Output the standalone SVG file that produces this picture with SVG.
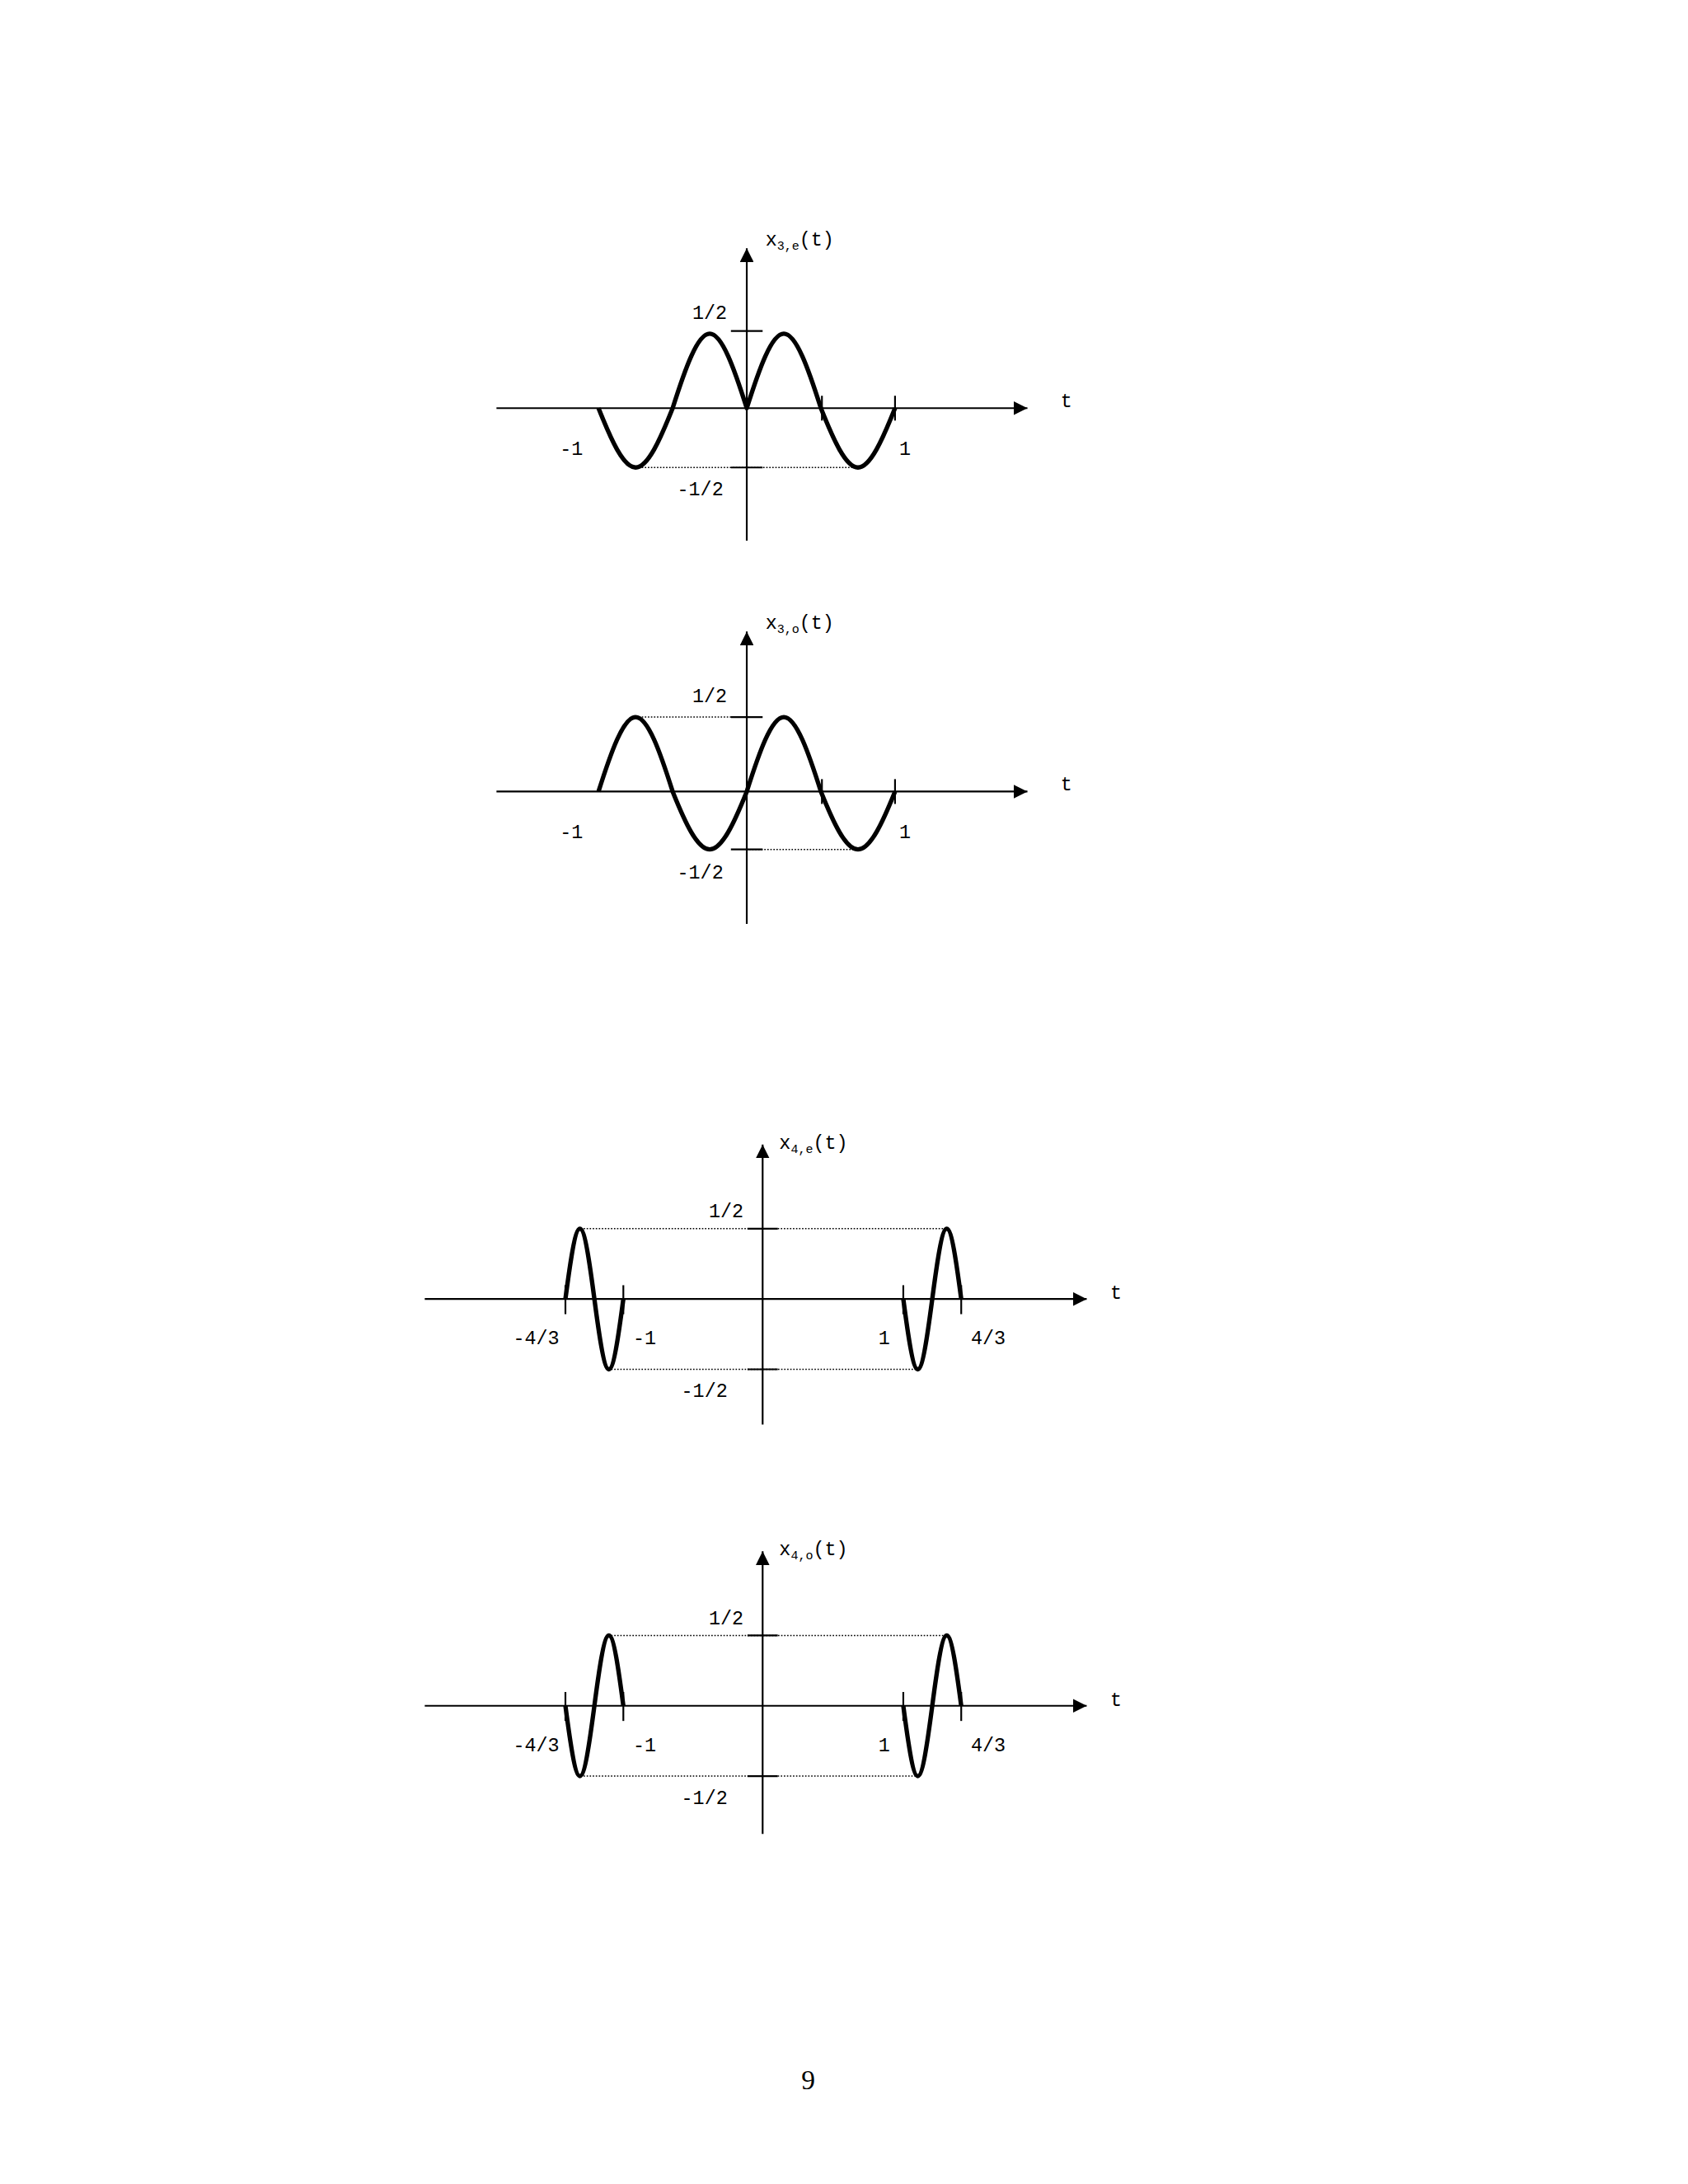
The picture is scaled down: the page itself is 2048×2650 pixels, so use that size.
<svg xmlns="http://www.w3.org/2000/svg" width="2048" height="2650" viewBox="0 0 2048 2650">
<style>
.ax{stroke:#000;stroke-width:1.3;fill:none}
.cv{stroke:#000;stroke-width:3.2;fill:none;stroke-linejoin:round}
.dt{stroke:#000;stroke-width:0.9;stroke-dasharray:1 1.2;fill:none}
.tk{stroke:#000;stroke-width:1.3}
text{font-family:"Liberation Mono","DejaVu Sans Mono",monospace;font-size:14px;fill:#000}
.sb{font-size:9px}
</style>
<defs>
<marker id="ar" viewBox="0 0 10 10" refX="10" refY="5" markerWidth="10" markerHeight="10" markerUnits="userSpaceOnUse" orient="auto"><path d="M0,0 L10,5 L0,10 z"/></marker>
</defs>
<rect width="2048" height="2650" fill="#fff"/>
<g transform="scale(1.6732)">
<g id="graph1">
<line class="ax" x1="360" y1="296" x2="745" y2="296" marker-end="url(#ar)" transform="translate(0,0)"/>
<line class="ax" x1="541.5" y1="392" x2="541.5" y2="180" marker-end="url(#ar)"/>
<line class="dt" x1="461" y1="339" x2="622" y2="339"/>
<line class="tk" x1="530" y1="240" x2="553" y2="240"/>
<line class="tk" x1="530" y1="339" x2="553" y2="339"/>
<line class="tk" x1="596" y1="287" x2="596" y2="305"/>
<line class="tk" x1="649" y1="287" x2="649" y2="305"/>
<path class="cv" d="M434,296 C442.96,318.5 451.92,339 460.875,339 S478.8,318.5 487.75,296 C496.71,267.7 505.67,242 514.625,242 S532.54,267.7 541.5,296 C550.46,267.7 559.42,242 568.375,242 S586.29,267.7 595.25,296 C604.21,318.5 613.17,339 622.125,339 S640.04,318.5 649,296"/>
<text x="555" y="178">x<tspan class="sb" dy="3">3,e</tspan><tspan dy="-3">(t)</tspan></text>
<text x="769" y="295">t</text>
<text x="502" y="231">1/2</text>
<text x="491" y="359">-1/2</text>
<text x="406" y="330">-1</text>
<text x="652" y="330">1</text>
</g>
<g id="graph2">
<line class="ax" x1="360" y1="574" x2="745" y2="574" marker-end="url(#ar)"/>
<line class="ax" x1="541.5" y1="670" x2="541.5" y2="458" marker-end="url(#ar)"/>
<line class="dt" x1="461" y1="520" x2="541" y2="520"/>
<line class="dt" x1="541" y1="616" x2="622" y2="616"/>
<line class="tk" x1="530" y1="520" x2="553" y2="520"/>
<line class="tk" x1="530" y1="616" x2="553" y2="616"/>
<line class="tk" x1="596" y1="565" x2="596" y2="583"/>
<line class="tk" x1="649" y1="565" x2="649" y2="583"/>
<path class="cv" d="M434,574 C442.96,545.7 451.92,520 460.875,520 S478.8,545.7 487.75,574 C496.71,596.3 505.67,616 514.625,616 S532.54,596.3 541.5,574 C550.46,545.7 559.42,520 568.375,520 S586.29,545.7 595.25,574 C604.21,596.3 613.17,616 622.125,616 S640.04,596.3 649,574"/>
<text x="555" y="456">x<tspan class="sb" dy="3">3,o</tspan><tspan dy="-3">(t)</tspan></text>
<text x="769" y="573">t</text>
<text x="502" y="509">1/2</text>
<text x="491" y="637">-1/2</text>
<text x="406" y="608">-1</text>
<text x="652" y="608">1</text>
</g>
<g id="graph3">
<line class="ax" x1="308" y1="942" x2="788" y2="942" marker-end="url(#ar)"/>
<line class="ax" x1="553" y1="1033" x2="553" y2="830" marker-end="url(#ar)"/>
<line class="dt" x1="421" y1="891" x2="686" y2="891"/>
<line class="dt" x1="441" y1="993" x2="665" y2="993"/>
<line class="tk" x1="542" y1="891" x2="564" y2="891"/>
<line class="tk" x1="542" y1="993" x2="564" y2="993"/>
<line class="tk" x1="410" y1="932" x2="410" y2="953"/>
<line class="tk" x1="452" y1="932" x2="452" y2="953"/>
<line class="tk" x1="655" y1="932" x2="655" y2="953"/>
<line class="tk" x1="697" y1="932" x2="697" y2="953"/>
<path class="cv" d="M410,942 C413.5,915.3 417,891 420.5,891 S427.5,915.3 431,942 C434.5,968.7 438,993 441.5,993 S448.5,968.7 452,942"/>
<path class="cv" d="M655,942 C658.5,968.7 662,993 665.5,993 S672.5,968.7 676,942 C679.5,915.3 683,891 686.5,891 S693.5,915.3 697,942"/>
<text x="565" y="833">x<tspan class="sb" dy="3">4,e</tspan><tspan dy="-3">(t)</tspan></text>
<text x="805" y="942">t</text>
<text x="514" y="883">1/2</text>
<text x="494" y="1013">-1/2</text>
<text x="372" y="975">-4/3</text>
<text x="459" y="975">-1</text>
<text x="637" y="975">1</text>
<text x="704" y="975">4/3</text>
</g>
<g id="graph4">
<line class="ax" x1="308" y1="1237" x2="788" y2="1237" marker-end="url(#ar)"/>
<line class="ax" x1="553" y1="1330" x2="553" y2="1125" marker-end="url(#ar)"/>
<line class="dt" x1="441" y1="1186" x2="686" y2="1186"/>
<line class="dt" x1="421" y1="1288" x2="665" y2="1288"/>
<line class="tk" x1="542" y1="1186" x2="564" y2="1186"/>
<line class="tk" x1="542" y1="1288" x2="564" y2="1288"/>
<line class="tk" x1="410" y1="1227" x2="410" y2="1248"/>
<line class="tk" x1="452" y1="1227" x2="452" y2="1248"/>
<line class="tk" x1="655" y1="1227" x2="655" y2="1248"/>
<line class="tk" x1="697" y1="1227" x2="697" y2="1248"/>
<path class="cv" d="M410,1237 C413.5,1263.7 417,1288 420.5,1288 S427.5,1263.7 431,1237 C434.5,1210.3 438,1186 441.5,1186 S448.5,1210.3 452,1237"/>
<path class="cv" d="M655,1237 C658.5,1263.7 662,1288 665.5,1288 S672.5,1263.7 676,1237 C679.5,1210.3 683,1186 686.5,1186 S693.5,1210.3 697,1237"/>
<text x="565" y="1128">x<tspan class="sb" dy="3">4,o</tspan><tspan dy="-3">(t)</tspan></text>
<text x="805" y="1237">t</text>
<text x="514" y="1178">1/2</text>
<text x="494" y="1308">-1/2</text>
<text x="372" y="1270">-4/3</text>
<text x="459" y="1270">-1</text>
<text x="637" y="1270">1</text>
<text x="704" y="1270">4/3</text>
</g>
<text x="586" y="1515" text-anchor="middle" style="font-family:'Liberation Serif',serif;font-size:20px">9</text>
</g>
</svg>
